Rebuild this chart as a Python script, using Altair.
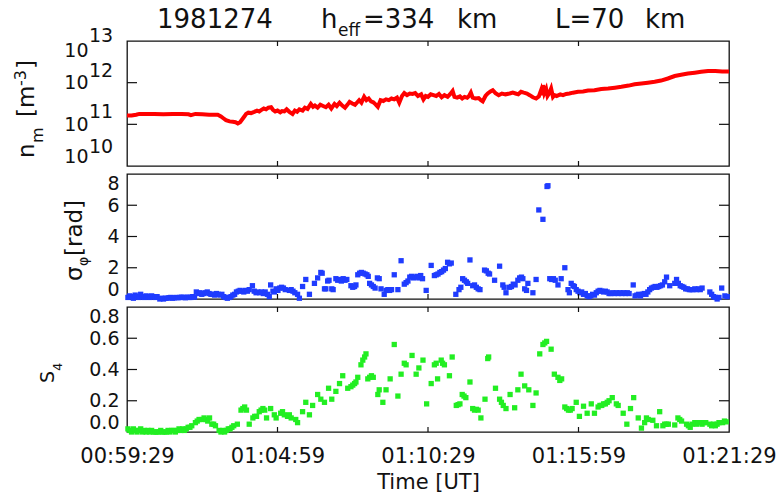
import altair as alt
import pandas as pd

# ---------------- data ----------------
x_tick_secs = [0, 330, 660, 990, 1320]          # seconds after 00:59:29
x_tick_labels = ["00:59:29", "01:04:59", "01:10:29", "01:15:59", "01:21:29"]

ne_ticks = [10, 11, 12, 13]                      # log10 of n_m
sig_ticks = [0, 2, 4, 6, 8]
s4_ticks = [0.0, 0.2, 0.4, 0.6, 0.8]

ne_t = [0, 10, 20, 27, 40, 60, 80, 100, 120, 135, 140, 150, 165, 180, 199, 206, 212, 217, 225, 232,
        238, 243, 248, 254, 258, 261, 266, 272, 279, 285, 290, 294, 300, 305, 310, 316, 320, 325, 330, 336,
        340, 345, 350, 356, 363, 368, 373, 378, 385, 390, 396, 403, 408, 412, 418, 424, 430, 436, 442, 448,
        455, 460, 466, 472, 478, 484, 488, 494, 500, 505, 509, 514, 520, 525, 530, 535, 540, 545, 550, 556,
        562, 568, 574, 580, 586, 592, 597, 603, 608, 614, 620, 626, 632, 638, 645, 650, 655, 660, 666, 672,
        678, 684, 690, 696, 703, 709, 714, 718, 724, 730, 735, 740, 746, 750, 754, 758, 764, 771, 776, 780,
        786, 791, 797, 802, 808, 815, 822, 830, 839, 846, 852, 858, 864, 870, 877, 883, 890, 897, 903, 908,
        910, 912, 915, 919, 922, 926, 930, 934, 937, 942, 950, 956, 963, 970, 978, 989, 1000, 1011, 1025, 1040,
        1055, 1070, 1084, 1100, 1113, 1128, 1142, 1157, 1171, 1186, 1201, 1215, 1230, 1245, 1259, 1274, 1290, 1305, 1320]
ne_log = [11.21, 11.21, 11.23, 11.25, 11.25, 11.25, 11.24, 11.25, 11.25, 11.24, 11.22, 11.25, 11.24, 11.23, 11.23, 11.19, 11.14, 11.10, 11.07, 11.06,
          11.05, 11.02, 11.05, 11.14, 11.20, 11.25, 11.28, 11.27, 11.30, 11.33, 11.31, 11.34, 11.38, 11.36, 11.40, 11.41, 11.35, 11.31, 11.33, 11.29,
          11.32, 11.31, 11.36, 11.30, 11.25, 11.33, 11.30, 11.36, 11.33, 11.40, 11.37, 11.49, 11.42, 11.45, 11.40, 11.47, 11.44, 11.41, 11.47, 11.38,
          11.49, 11.44, 11.52, 11.45, 11.40, 11.48, 11.54, 11.50, 11.47, 11.53, 11.58, 11.52, 11.66, 11.58, 11.62, 11.55, 11.53, 11.48, 11.42, 11.58,
          11.56, 11.60, 11.58, 11.62, 11.60, 11.64, 11.52, 11.68, 11.75, 11.70, 11.74, 11.73, 11.75, 11.68, 11.72, 11.60, 11.68, 11.66, 11.72, 11.70,
          11.68, 11.73, 11.65, 11.70, 11.66, 11.73, 11.80, 11.66, 11.64, 11.67, 11.62, 11.66, 11.64, 11.68, 11.76, 11.64, 11.62, 11.63, 11.58, 11.55,
          11.68, 11.74, 11.79, 11.82, 11.75, 11.70, 11.74, 11.72, 11.74, 11.76, 11.74, 11.72, 11.78, 11.76, 11.74, 11.70, 11.65, 11.62, 11.67, 11.82,
          11.70, 11.94, 11.75, 11.85, 11.68, 11.75, 11.86, 11.66, 11.70, 11.68, 11.72, 11.70, 11.73, 11.74, 11.76, 11.78, 11.79, 11.81, 11.82, 11.85,
          11.86, 11.88, 11.90, 11.93, 11.96, 11.98, 12.00, 12.02, 12.05, 12.10, 12.16, 12.19, 12.22, 12.24, 12.26, 12.28, 12.28, 12.27, 12.27]

sig_t = [2, 6, 10, 14, 18, 22, 26, 30, 34, 38, 42, 46, 50, 54, 58, 62, 66, 72, 76, 80, 84, 88, 92, 96, 100,
         104, 108, 112, 116, 120, 124, 128, 132, 136, 140, 144, 148, 152, 156, 160, 164, 168, 172, 176, 180, 184, 188, 192, 196, 200,
         204, 208, 212, 216, 220, 224, 228, 232, 236, 240, 244, 248, 252, 256, 260, 264, 268, 275, 279, 283, 287, 291, 295, 299, 303,
         308, 312, 315, 320, 323, 327, 331, 335, 339, 343, 347, 356, 360, 364, 368, 374, 378, 385, 392, 400, 411, 418, 425, 428, 433,
         436, 440, 443, 449, 452, 458, 462, 466, 470, 474, 478, 482, 491, 495, 499, 502, 506, 510, 514, 518, 522, 526, 529, 532, 536,
         540, 544, 549, 553, 557, 564, 568, 572, 576, 580, 586, 594, 601, 608, 612, 616, 620, 624, 628, 632, 636, 640, 644, 648, 656,
         667, 674, 678, 682, 686, 690, 694, 698, 703, 707, 711, 721, 728, 732, 736, 740, 744, 747, 752, 758, 762, 766, 770, 774, 784,
         788, 792, 795, 806, 817, 824, 827, 831, 839, 843, 847, 851, 857, 861, 865, 868, 872, 876, 879, 890, 897, 903, 912, 921, 923,
         927, 931, 935, 939, 945, 952, 960, 967, 970, 974, 978, 981, 985, 989, 993, 997, 1001, 1005, 1009, 1013, 1017, 1021, 1025, 1029,
         1033, 1037, 1041, 1045, 1049, 1053, 1057, 1061, 1065, 1069, 1073, 1077, 1081, 1085, 1089, 1093, 1097, 1101, 1110, 1114, 1118, 1122,
         1126, 1130, 1134, 1138, 1142, 1146, 1150, 1154, 1158, 1162, 1166, 1170, 1174, 1179, 1183, 1190, 1201, 1205, 1209, 1213, 1217, 1221,
         1225, 1229, 1233, 1237, 1241, 1245, 1249, 1253, 1257, 1261, 1278, 1282, 1286, 1290, 1294, 1298, 1304, 1311, 1316]
sig_v = [0.10, 0.20, 0.15, 0.05, 0.25, 0.15, 0.10, 0.30, 0.15, 0.10, 0.20, 0.15, 0.10, 0.20, 0.15, 0.10, 0.15, 0.00, 0.05, 0.00, 0.05, 0.05, 0.08, 0.10, 0.05,
         0.08, 0.10, 0.08, 0.10, 0.12, 0.10, 0.08, 0.12, 0.10, 0.10, 0.15, 0.12, 0.45, 0.35, 0.40, 0.30, 0.35, 0.40, 0.45, 0.35, 0.30, 0.30, 0.25, 0.35, 0.30,
         0.25, 0.30, 0.15, 0.10, 0.05, 0.10, 0.15, 0.25, 0.30, 0.45, 0.50, 0.55, 0.50, 0.45, 0.55, 0.50, 0.60, 0.85, 0.50, 0.40, 0.45, 0.40, 0.45, 0.35, 0.45,
         0.30, 0.15, 0.90, 0.50, 0.45, 0.65, 0.55, 0.70, 0.75, 0.70, 0.60, 0.55, 0.60, 0.50, 0.40, 0.30, 0.05, 0.80, 1.25, 0.30, 1.00, 1.35, 1.70, 1.65, 0.65,
         0.65, 1.15, 1.20, 0.65, 0.60, 1.30, 1.20, 1.25, 1.15, 1.30, 1.20, 1.25, 0.85, 0.75, 0.80, 0.90, 1.55, 1.65, 1.70, 1.65, 1.60, 1.55, 1.45, 1.00, 0.90,
         0.80, 0.70, 1.35, 1.30, 0.65, 0.30, 0.55, 0.60, 0.55, 0.60, 1.55, 0.60, 2.45, 0.95, 1.05, 1.15, 1.40, 1.45, 1.35, 1.40, 1.45, 1.35, 1.50, 1.30, 0.55,
         2.15, 1.50, 1.55, 1.60, 1.70, 1.75, 1.85, 1.95, 2.35, 2.25, 2.30, 0.30, 0.60, 0.75, 1.30, 1.20, 1.10, 1.00, 2.50, 0.85, 0.90, 0.75, 0.65, 0.60, 1.85,
         1.80, 1.65, 1.60, 1.20, 2.10, 0.90, 0.75, 0.40, 0.75, 0.80, 0.95, 0.90, 1.20, 1.35, 1.40, 1.30, 0.65, 0.55, 1.00, 0.40, 1.25, 5.70, 5.10, 7.20, 7.25,
         1.30, 1.25, 1.30, 1.20, 0.90, 1.30, 2.00, 0.60, 0.40, 1.00, 0.85, 0.80, 0.60, 0.50, 0.40, 0.45, 0.30, 0.35, 0.20, 0.15, 0.20, 0.30, 0.25, 0.40,
         0.50, 0.55, 0.50, 0.45, 0.50, 0.45, 0.35, 0.35, 0.40, 0.35, 0.40, 0.35, 0.40, 0.35, 0.40, 0.35, 0.40, 0.35, 0.90, 0.20, 0.25, 0.30,
         0.20, 0.30, 0.35, 0.30, 0.45, 0.60, 0.70, 0.75, 0.80, 0.75, 0.80, 0.85, 0.90, 1.10, 1.40, 0.85, 1.00, 1.25, 1.00, 0.85, 0.80, 0.75,
         0.65, 0.65, 0.60, 0.60, 0.60, 0.65, 0.60, 0.65, 0.60, 0.70, 0.45, 0.30, 0.15, 0.10, 0.00, 0.10, 0.70, 0.20, 0.15]

s4_t = [2, 6, 10, 14, 18, 22, 26, 30, 34, 38, 42, 46, 50, 54, 58, 62, 66, 70, 74, 78, 82, 86, 90, 94, 98,
        102, 106, 110, 114, 118, 122, 126, 130, 134, 138, 142, 150, 154, 158, 165, 169, 173, 177, 181, 186, 190, 194, 202, 206, 210,
        214, 218, 222, 226, 230, 234, 242, 250, 254, 258, 262, 268, 276, 280, 284, 290, 294, 298, 302, 306, 315, 323, 327, 337, 341,
        345, 352, 356, 360, 370, 374, 385, 392, 400, 407, 418, 425, 433, 442, 449, 458, 466, 473, 484, 491, 495, 499, 502, 506, 513,
        517, 521, 524, 528, 532, 536, 540, 550, 553, 561, 568, 577, 586, 594, 601, 608, 612, 625, 634, 640, 649, 657, 667, 674, 678,
        681, 689, 692, 696, 707, 713, 722, 726, 730, 735, 739, 743, 752, 758, 762, 766, 770, 776, 785, 791, 793, 808, 817, 821, 825,
        831, 840, 850, 857, 864, 872, 881, 890, 897, 905, 912, 916, 920, 930, 937, 945, 949, 953, 960, 964, 968, 972, 976, 985, 992,
        1001, 1009, 1018, 1025, 1033, 1037, 1041, 1045, 1049, 1053, 1057, 1064, 1073, 1077, 1088, 1096, 1104, 1111, 1121, 1128, 1135, 1139, 1143, 1153, 1161,
        1168, 1175, 1179, 1183, 1187, 1201, 1208, 1212, 1216, 1227, 1231, 1235, 1239, 1245, 1249, 1253, 1257, 1261, 1265, 1269, 1278, 1282, 1286, 1290, 1294,
        1298, 1306, 1310, 1314]
s4_v = [0.02, 0.01, 0.00, 0.02, 0.01, 0.00, 0.01, 0.02, 0.00, 0.01, 0.00, 0.01, 0.00, 0.01, 0.00, 0.00, 0.00, 0.00, 0.01, 0.00, 0.00, 0.00, 0.01, 0.00, 0.01,
        0.01, 0.00, 0.01, 0.02, 0.01, 0.02, 0.01, 0.02, 0.03, 0.03, 0.04, 0.06, 0.07, 0.08, 0.08, 0.09, 0.08, 0.07, 0.09, 0.05, 0.05, 0.04, 0.01, 0.00, 0.01,
        0.00, 0.01, 0.02, 0.02, 0.03, 0.04, 0.05, 0.14, 0.15, 0.16, 0.14, 0.05, 0.09, 0.10, 0.10, 0.13, 0.14, 0.15, 0.14, 0.09, 0.15, 0.11, 0.09, 0.12, 0.13,
        0.11, 0.10, 0.11, 0.09, 0.08, 0.06, 0.13, 0.19, 0.11, 0.17, 0.24, 0.21, 0.19, 0.28, 0.21, 0.26, 0.31, 0.36, 0.28, 0.29, 0.30, 0.31, 0.32, 0.35, 0.43,
        0.46, 0.48, 0.50, 0.34, 0.35, 0.36, 0.35, 0.24, 0.27, 0.19, 0.27, 0.34, 0.56, 0.23, 0.37, 0.44, 0.43, 0.49, 0.37, 0.41, 0.46, 0.18, 0.31, 0.43, 0.44,
        0.34, 0.46, 0.44, 0.43, 0.36, 0.48, 0.17, 0.175, 0.18, 0.24, 0.23, 0.22, 0.32, 0.15, 0.14, 0.145, 0.14, 0.09, 0.21, 0.47, 0.48, 0.28, 0.21, 0.19, 0.17,
        0.15, 0.24, 0.155, 0.27, 0.37, 0.295, 0.27, 0.17, 0.25, 0.50, 0.56, 0.57, 0.58, 0.53, 0.37, 0.35, 0.33, 0.34, 0.16, 0.15, 0.14, 0.14, 0.15, 0.19, 0.10,
        0.165, 0.12, 0.18, 0.12, 0.16, 0.17, 0.17, 0.18, 0.18, 0.19, 0.20, 0.22, 0.18, 0.17, 0.12, 0.05, 0.15, 0.22, 0.09, 0.025, 0.06, 0.09, 0.08, 0.075, 0.04,
        0.13, 0.04, 0.05, 0.05, 0.05, 0.045, 0.09, 0.08, 0.07, 0.05, 0.04, 0.03, 0.05, 0.06, 0.05, 0.06, 0.06, 0.05, 0.06, 0.06, 0.05, 0.04, 0.05, 0.04, 0.05,
        0.06, 0.06, 0.07, 0.065]

# ---------------- style ----------------
FONT = "DejaVu Sans"
INK = "#111111"
W, H = 602, 125
XT_LEN, YT_LEN = 5, 10

xscale = alt.Scale(domain=[0, 1320], nice=False, zero=False)
x_expr = " : ".join(f"datum.value == {s} ? '{l}'" for s, l in zip(x_tick_secs, x_tick_labels)) + " : ''"


def one_row():
    return pd.DataFrame({"k": [0]})


def txt(text, x, y, size, angle=0, baseline="alphabetic"):
    return alt.Chart(one_row()).mark_text(
        text=text, font=FONT, fontSize=size, angle=angle, align="left",
        baseline=baseline, color=INK
    ).encode(x=alt.value(x), y=alt.value(y))


def yaxis(values, fmt=None, expr=None, pad=8):
    kw = dict(values=values, ticks=False, domain=False, grid=False, labelFlush=True,
              labelPadding=pad, labelFontSize=19, labelFont=FONT, labelColor=INK,
              labelOverlap=False, title=None)
    if fmt:
        kw["format"] = fmt
    if expr:
        kw["labelExpr"] = expr
    return alt.Axis(**kw)


def xaxis(show):
    if not show:
        return None
    return alt.Axis(values=x_tick_secs, labelExpr=x_expr, ticks=False, domain=False, grid=False,
                    labelPadding=13, labelFontSize=21, labelFont=FONT, labelColor=INK,
                    labelOverlap=False, labelFlush=False, title="Time [UT]", titleFontSize=21,
                    titleFont=FONT, titleFontWeight="normal", titleColor=INK, titlePadding=5)


def panel(main_layer, ydom, yax, ticks, extras, show_x):
    ysc = alt.Scale(domain=ydom, nice=False, zero=False)
    X = lambda: alt.X("t:Q", scale=xscale, axis=xaxis(show_x))
    Y = lambda: alt.Y("v:Q", scale=ysc, axis=yax)
    xt = pd.DataFrame({"t": x_tick_secs[1:-1]})
    yt = pd.DataFrame({"v": ticks[1:-1]})
    layers = [main_layer(X(), Y())]
    layers.append(alt.Chart(xt).mark_rule(color=INK, strokeWidth=1.2).encode(x=X(), y=alt.value(0), y2=alt.value(XT_LEN)))
    layers.append(alt.Chart(xt).mark_rule(color=INK, strokeWidth=1.2).encode(x=X(), y=alt.value(H), y2=alt.value(H - XT_LEN)))
    layers.append(alt.Chart(yt).mark_rule(color=INK, strokeWidth=1.2).encode(y=Y(), x=alt.value(0), x2=alt.value(YT_LEN)))
    layers.append(alt.Chart(yt).mark_rule(color=INK, strokeWidth=1.2).encode(y=Y(), x=alt.value(W), x2=alt.value(W - YT_LEN)))
    for e in extras:
        layers.append(e(Y()) if callable(e) else e)
    return alt.layer(*layers).properties(width=W, height=H)


# ---- top panel: n_m ----
ne_df = pd.DataFrame({"t": ne_t, "v": ne_log})
exp_df = pd.DataFrame({"v": ne_ticks, "e": [str(v) for v in ne_ticks]})


def ne_main(X, Y):
    return alt.Chart(ne_df).mark_line(color="#ff0000", strokeWidth=4).encode(x=X, y=Y)


def exp_layer(cond, dy):
    def f(Y):
        return alt.Chart(exp_df).transform_filter(cond).mark_text(
            align="left", baseline="middle", dy=dy, font=FONT, fontSize=19, color=INK
        ).encode(x=alt.value(-38), y=Y, text="e:N")
    return f


anchor = alt.Chart(one_row()).mark_rule(opacity=0, strokeWidth=0).encode(
    x=alt.value(-126), x2=alt.value(-126), y=alt.value(-40), y2=alt.value(-39))

top_extras = [
    exp_layer("datum.v == 13", -5),
    exp_layer("datum.v == 11 || datum.v == 12", -12),
    exp_layer("datum.v == 10", -19),
    txt("n", -93, 117, 23, 270),
    txt("m", -84, 102, 16, 270),
    txt("[m", -93, 76, 23, 270),
    txt("-3", -101, 45, 16, 270),
    txt("]", -93, 28, 23, 270),
    txt("1981274", 30, -13, 26),
    txt("h", 194, -13, 26),
    txt("eff", 211, -5, 17),
    txt("=334", 236, -13, 26),
    txt("km", 330, -13, 26),
    txt("L=70", 428, -13, 26),
    txt("km", 518, -13, 26),
    anchor,
]
p1 = panel(ne_main, [10, 13], yaxis(ne_ticks, expr="'10'", pad=39), ne_ticks, top_extras, False)

# ---- middle panel: sigma_phi ----
sig_df = pd.DataFrame({"t": sig_t, "v": sig_v})


def sig_main(X, Y):
    return alt.Chart(sig_df).mark_square(size=28, color="#1f3cff", opacity=1).encode(x=X, y=Y)


mid_extras = [
    txt("σ", -45, 107, 23, 270),
    txt("φ", -39, 92, 14, 270),
    txt("[rad]", -45, 82, 23, 270),
]
p2 = panel(sig_main, [0, 8], yaxis(sig_ticks, fmt="d"), sig_ticks, mid_extras, False)

# ---- bottom panel: S4 ----
s4_df = pd.DataFrame({"t": s4_t, "v": s4_v})


def s4_main(X, Y):
    return alt.Chart(s4_df).mark_square(size=28, color="#22ee22", opacity=1).encode(x=X, y=Y)


bot_extras = [
    txt("S", -73, 76, 19, 270),
    txt("4", -65, 64, 13, 270),
]
p3 = panel(s4_main, [0, 0.8], yaxis(s4_ticks, fmt=".1f"), s4_ticks, bot_extras, True)

chart = alt.vconcat(p1, p2, p3, spacing=8, bounds="flush").properties(
    padding=0, background="white"
).configure_view(stroke=INK, strokeWidth=1.3)

chart.save("out.html", embed_options={"renderer": "svg", "actions": False})
